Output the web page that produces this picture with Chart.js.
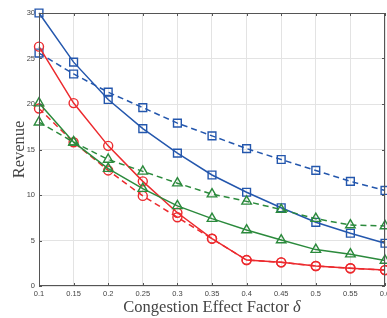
<!DOCTYPE html>
<html lang="en">
<head>
  <meta charset="UTF-8" />
  <title>Revenue vs congestion effect factor</title>
  <script src="https://cdn.jsdelivr.net/npm/chart.js"></script>
  <style>
    html, body { margin: 0; padding: 0; background: #fff; }
    #wrap { width: 387px; height: 318px; position: relative; }
  </style>
</head>
<body>
  <div id="wrap"><canvas id="chart"></canvas></div>

  <script>
    // congestion effect factor (x axis)
    const delta = [0.1, 0.15, 0.2, 0.25, 0.3, 0.35, 0.4, 0.45, 0.5, 0.55, 0.6];
    const yTicks = [0, 5, 10, 15, 20, 25, 30];

    // revenue
    const blueSolid  = [30.0, 24.6, 20.5, 17.3, 14.6, 12.2, 10.3, 8.6, 7.0, 5.8, 4.7];
    const blueDashed = [25.6, 23.3, 21.3, 19.6, 17.9, 16.5, 15.1, 13.9, 12.7, 11.5, 10.5];
    const redSolid   = [26.3, 20.1, 15.4, 11.5, 8.05, 5.2, 2.85, 2.6, 2.2, 1.95, 1.75];
    const redDashed  = [19.5, 15.8, 12.7, 9.9, 7.55, 5.2, 2.85, 2.6, 2.2, 1.95, 1.75];
    const greenSolid = [20.1, 15.8, 12.9, 10.7, 8.8, 7.4, 6.15, 5.05, 4.0, 3.5, 2.8];
    const greenDashed= [18.0, 15.8, 13.9, 12.6, 11.3, 10.1, 9.3, 8.4, 7.4, 6.7, 6.6];

    const BLUE = '#2457ad', RED = '#ec2a2e', GREEN = '#2b8a3c';
    const SERIF = '"Liberation Serif", "Times New Roman", serif';

    function series(vals, color, shape, dashed, r) {
      return {
        data: vals.map((v, i) => ({ x: delta[i], y: v })),
        borderColor: color,
        borderWidth: 1.5,
        borderDash: dashed ? [6, 4] : [],
        pointStyle: shape,
        pointRadius: r,
        pointBorderColor: color,
        pointBackgroundColor: 'rgba(0,0,0,0)',
        pointBorderWidth: 1.4,
        fill: false,
        clip: false,
        tension: 0
      };
    }

    // MATLAB-ish box, inward ticks and the axis titles
    const boxPlugin = {
      id: 'box',
      afterDraw(chart) {
        const { ctx, chartArea: a, scales: { x, y } } = chart;
        ctx.save();
        ctx.strokeStyle = '#555';
        ctx.lineWidth = 1;
        ctx.strokeRect(a.left + 0.5, a.top + 0.5, a.right - a.left - 1, a.bottom - a.top - 1);
        ctx.beginPath();
        delta.forEach(v => {
          const px = Math.round(x.getPixelForValue(v)) + 0.5;
          ctx.moveTo(px, a.bottom); ctx.lineTo(px, a.bottom - 3);
          ctx.moveTo(px, a.top); ctx.lineTo(px, a.top + 3);
        });
        yTicks.forEach(v => {
          const py = Math.round(y.getPixelForValue(v)) + 0.5;
          ctx.moveTo(a.left, py); ctx.lineTo(a.left + 3, py);
          ctx.moveTo(a.right, py); ctx.lineTo(a.right - 3, py);
        });
        ctx.stroke();

        ctx.fillStyle = '#444';
        ctx.textBaseline = 'alphabetic';
        const t1 = 'Congestion Effect Factor ';
        const t2 = 'δ';
        ctx.font = '16.5px ' + SERIF;
        const w1 = ctx.measureText(t1).width;
        ctx.font = 'italic 16.5px ' + SERIF;
        const w2 = ctx.measureText(t2).width;
        const cx = (a.left + a.right) / 2;
        const sx = cx - (w1 + w2) / 2;
        ctx.textAlign = 'left';
        ctx.font = '16.5px ' + SERIF;
        ctx.fillText(t1, sx, 312);
        ctx.font = 'italic 16.5px ' + SERIF;
        ctx.fillText(t2, sx + w1, 312);

        ctx.translate(24, (a.top + a.bottom) / 2);
        ctx.rotate(-Math.PI / 2);
        ctx.textAlign = 'center';
        ctx.font = '16.5px ' + SERIF;
        ctx.fillText('Revenue', 0, 0);
        ctx.restore();
      }
    };

    new Chart(document.getElementById('chart'), {
      type: 'line',
      data: {
        datasets: [
          series(greenDashed, GREEN, 'triangle', true, 5.5),
          series(greenSolid, GREEN, 'triangle', false, 5.5),
          series(redDashed, RED, 'circle', true, 4.5),
          series(redSolid, RED, 'circle', false, 4.5),
          series(blueDashed, BLUE, 'rect', true, 5.5),
          series(blueSolid, BLUE, 'rect', false, 5.5)
        ]
      },
      options: {
        responsive: true,
        maintainAspectRatio: false,
        animation: false,
        layout: { autoPadding: false, padding: { top: 13, right: 2, left: 0, bottom: 0 } },
        plugins: { legend: { display: false }, tooltip: { enabled: false } },
        scales: {
          x: {
            type: 'linear',
            min: 0.1, max: 0.6,
            afterBuildTicks: s => { s.ticks = delta.map(v => ({ value: v })); },
            afterFit: s => { s.height = 32; s.paddingLeft = 0; s.paddingRight = 0; },
            grid: { color: '#e3e3e3', drawTicks: false },
            border: { display: false },
            ticks: {
              padding: 3,
              color: '#444',
              font: { family: '"Liberation Sans", Arial, sans-serif', size: 7.5 },
              callback: v => String(parseFloat(v.toFixed(2))),
              maxRotation: 0, autoSkip: false
            }
          },
          y: {
            min: 0, max: 30,
            afterBuildTicks: s => { s.ticks = yTicks.map(v => ({ value: v })); },
            afterFit: s => { s.width = 39; s.paddingTop = 0; s.paddingBottom = 0; },
            grid: { color: '#e3e3e3', drawTicks: false },
            border: { display: false },
            ticks: {
              padding: 4,
              color: '#444',
              font: { family: '"Liberation Sans", Arial, sans-serif', size: 7.5 }
            }
          }
        }
      },
      plugins: [boxPlugin]
    });
  </script>
</body>
</html>
